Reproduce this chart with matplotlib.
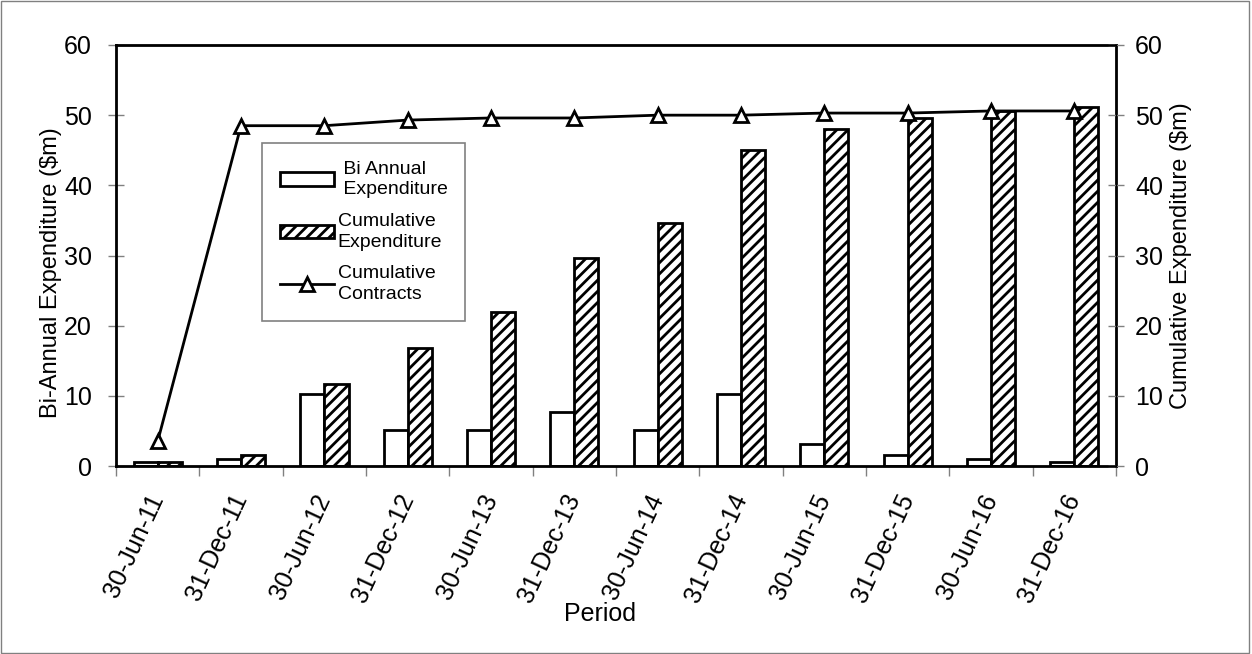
import numpy as np
import matplotlib.pyplot as plt
import matplotlib.transforms as mtransforms
from matplotlib.patches import Rectangle

plt.rcParams['font.family'] = ['Liberation Sans', 'DejaVu Sans']
plt.rcParams['hatch.linewidth'] = 2.0

# data
periods = ['30-Jun-11', '31-Dec-11', '30-Jun-12', '31-Dec-12', '30-Jun-13', '31-Dec-13',
           '30-Jun-14', '31-Dec-14', '30-Jun-15', '31-Dec-15', '30-Jun-16', '31-Dec-16']
bi_annual = [0.5, 1.0, 10.2, 5.1, 5.1, 7.7, 5.1, 10.2, 3.1, 1.5, 1.0, 0.5]
cumulative = [0.5, 1.5, 11.7, 16.8, 21.9, 29.6, 34.7, 45.0, 48.0, 49.6, 50.6, 51.1]
contracts = [3.5, 48.5, 48.5, 49.3, 49.6, 49.6, 50.0, 50.0, 50.3, 50.3, 50.6, 50.6]

x = np.arange(len(periods))
w = 0.29

fig = plt.figure(figsize=(12.52, 6.54), dpi=100)
ax = fig.add_axes([116/1252, 1-466/654, 1000/1252, 421/654])

b1 = ax.bar(x - w/2, bi_annual, w, color='white', edgecolor='black', linewidth=2,
            label=' Bi Annual\n Expenditure', zorder=2)
b2 = ax.bar(x + w/2, cumulative, w, color='white', edgecolor='black', linewidth=2,
            hatch='///', label='Cumulative\nExpenditure', zorder=2)
ln, = ax.plot(x, contracts, color='black', linewidth=2, marker='^', markersize=10,
              markerfacecolor='white', markeredgecolor='black', markeredgewidth=2,
              label='Cumulative\nContracts', zorder=3)

ax.set_xlim(-0.5, len(periods) - 0.5)
ax.set_ylim(0, 60)
ax.set_yticks(range(0, 61, 10))
ax.set_xticks(x)
ax.set_xticklabels(periods, rotation=65, ha='right', va='center',
                   rotation_mode='anchor', fontsize=18)
shift = mtransforms.ScaledTranslation(12/100, 0, fig.dpi_scale_trans)
for lab in ax.get_xticklabels():
    lab.set_transform(lab.get_transform() + shift)
ax.set_xticks(np.arange(-0.5, len(periods), 1), minor=True)
ax.tick_params(axis='x', which='major', length=0, pad=21)
ax.tick_params(axis='x', which='minor', length=7.5, width=1, color='gray', direction='out')
ax.tick_params(axis='y', labelsize=18, length=11.5, width=1, direction='inout',
               color='gray', pad=11.5)
for s in ax.spines.values():
    s.set_linewidth(2)
ax.set_ylabel('Bi-Annual Expenditure ($m)', fontsize=17)
ax.yaxis.set_label_coords(-0.054, 0.46)
ax.set_xlabel('Period', fontsize=18)
ax.xaxis.set_label_coords(0.484, -0.322)

ax2 = ax.twinx()
ax2.set_ylim(0, 60)
ax2.set_yticks(range(0, 61, 10))
ax2.tick_params(axis='y', labelsize=18, length=11.5, width=1, direction='inout',
                color='gray', pad=8)
ax2.set_ylabel('Cumulative Expenditure ($m)', fontsize=17)
ax2.yaxis.set_label_coords(1.054, 0.5)

leg = ax.legend([b1, b2, ln], [b1.get_label(), b2.get_label(), ln.get_label()],
                loc='upper left', bbox_to_anchor=(146/1000, 1-98/421), borderaxespad=0,
                fontsize=14, fancybox=False, edgecolor='gray', framealpha=1,
                handlelength=2.8, labelspacing=0.75, borderpad=0.9, handletextpad=0.2)
leg.get_frame().set_linewidth(1.2)
for t in leg.get_texts():
    t.set_linespacing(1.3)

fig.patches.append(Rectangle((0.001, 0.002), 0.997, 0.996, transform=fig.transFigure,
                             fill=False, edgecolor='gray', linewidth=1))

fig.savefig('out.png', dpi=100)
